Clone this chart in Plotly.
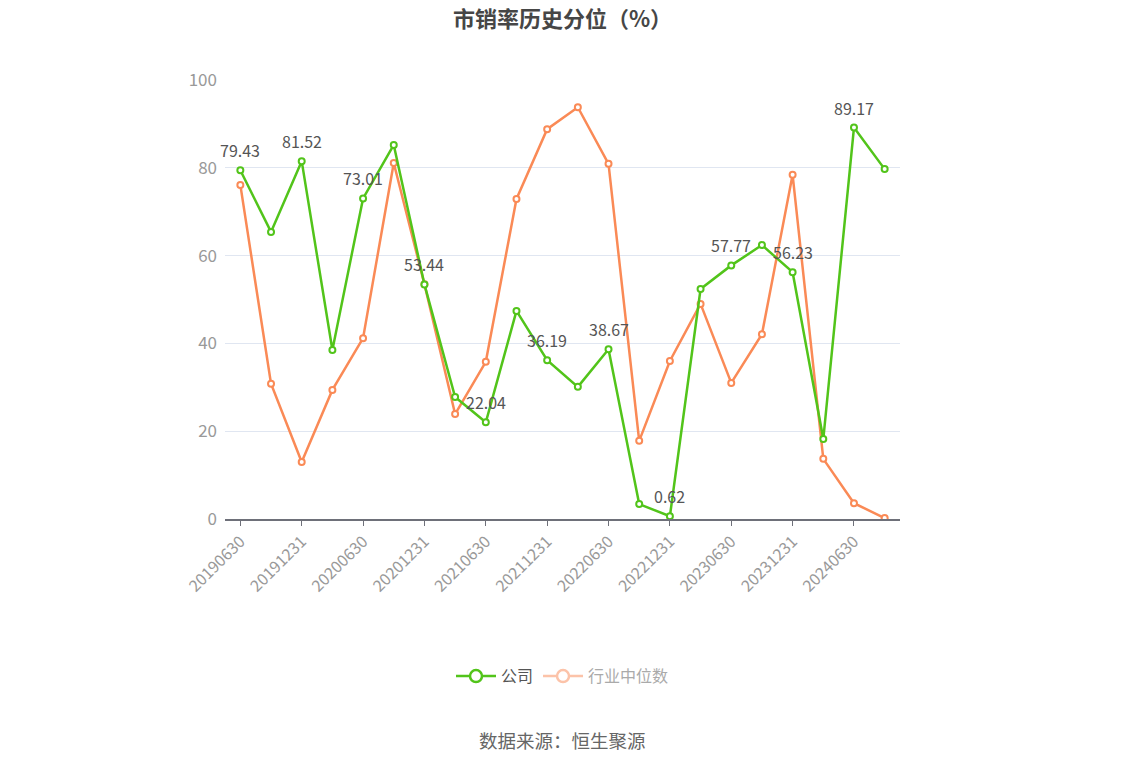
import plotly.graph_objects as go

dates = ["20190630", "20190930", "20191231", "20200331", "20200630", "20200930",
         "20201231", "20210331", "20210630", "20210930", "20211231", "20220331",
         "20220630", "20220930", "20221231", "20230331", "20230630", "20230930",
         "20231231", "20240331", "20240630", "20240930"]
company = [79.43, 65.4, 81.52, 38.5, 73.01, 85.2, 53.44, 27.8, 22.04, 47.4, 36.19,
           30.1, 38.67, 3.4, 0.62, 52.4, 57.77, 62.4, 56.23, 18.2, 89.17, 79.7]
industry = [76.1, 30.8, 13.0, 29.4, 41.2, 81.1, 53.5, 23.9, 35.8, 72.9, 88.8,
            93.8, 80.9, 17.8, 36.0, 49.0, 31.0, 42.1, 78.4, 13.7, 3.6, 0.2]
labeled = ["20190630", "20191231", "20200630", "20201231", "20210630", "20211231",
           "20220630", "20221231", "20230630", "20231231", "20240630"]
tick_labels = ["20190630", "20191231", "20200630", "20201231", "20210630", "20211231",
               "20220630", "20221231", "20230630", "20231231", "20240630"]

GREEN = "#52C41A"
ORANGE = "#FA8A56"
FONT = "Noto Sans CJK SC"

fig = go.Figure()

fig.add_trace(go.Scatter(
    x=dates, y=industry, mode="lines+markers", showlegend=False,
    line=dict(color=ORANGE, width=2.5),
    marker=dict(symbol="circle", size=6, color="white", line=dict(color=ORANGE, width=2)),
))

fig.add_trace(go.Scatter(
    x=dates, y=company, mode="lines+markers", showlegend=False,
    line=dict(color=GREEN, width=2.5),
    marker=dict(symbol="circle", size=6, color="white", line=dict(color=GREEN, width=2)),
))

# legend-only entries
fig.add_trace(go.Scatter(
    x=[None], y=[None], mode="lines+markers", name="公司",
    line=dict(color=GREEN, width=2.5),
    marker=dict(symbol="circle", size=12, color="white", line=dict(color=GREEN, width=2.5)),
))
fig.add_trace(go.Scatter(
    x=[None], y=[None], mode="lines+markers",
    name="<span style='color:#AAAAAA'>行业中位数</span>",
    line=dict(color="#FCC3A9", width=2.5),
    marker=dict(symbol="circle", size=12, color="white", line=dict(color="#FCC3A9", width=2.5)),
))

annotations = []
for i, (d, v) in enumerate(zip(dates, company)):
    if d in labeled:
        annotations.append(dict(x=i, y=v, xref="x", yref="y", text=f"{v:.2f}",
                                showarrow=False, yshift=20, yanchor="middle",
                                font=dict(family=FONT, size=16, color="#555555")))
annotations.append(dict(text="数据来源：恒生聚源", x=0.5, xref="paper", y=-0.503, yref="paper",
                        xanchor="center", yanchor="middle", showarrow=False,
                        font=dict(family=FONT, size=18.5, color="#666666")))

fig.update_layout(
    width=1134, height=766,
    margin=dict(l=225, r=234, t=80, b=247),
    paper_bgcolor="white", plot_bgcolor="white",
    font=dict(family=FONT, size=14, color="#999999"),
    title=dict(text="<b>市销率历史分位（%）</b>", x=0.5, xref="paper", xanchor="center",
               y=1 - 19 / 766, yanchor="middle",
               font=dict(family=FONT, size=22, color="#464646")),
    legend=dict(orientation="h", x=0.5, xanchor="center", y=-0.358, yanchor="middle",
                font=dict(family=FONT, size=16, color="#555555"), itemwidth=40),
    xaxis=dict(type="category", categoryorder="array", categoryarray=dates,
               range=[-0.5, len(dates) - 0.5],
               tickmode="array", tickvals=tick_labels, ticktext=tick_labels,
               tickangle=-45, tickfont=dict(family=FONT, size=16, color="#999999"),
               ticks="outside", ticklen=5, tickcolor="#6E7079",
               showline=True, linecolor="#6E7079", linewidth=1.5,
               showgrid=False, zeroline=False),
    yaxis=dict(range=[0, 100], tickvals=[0, 20, 40, 60, 80, 100],
               tickfont=dict(family=FONT, size=17, color="#999999"),
               showgrid=True, gridcolor="#E0E6F1", gridwidth=1,
               zeroline=False, showline=False, ticks="", ticklabelstandoff=7),
    annotations=annotations,
)

fig.write_html("out.html", config={"displayModeBar": False},
               post_script="document.body.style.margin='0';")
